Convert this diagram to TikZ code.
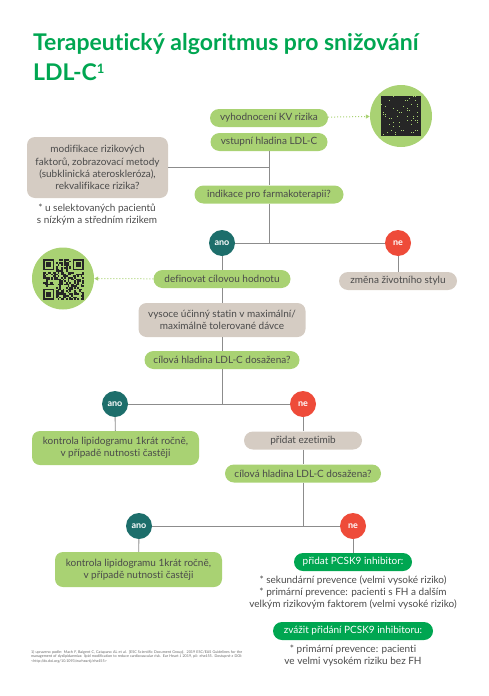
\documentclass[tikz,border=0pt]{standalone}
\usepackage{fontspec}
\setmainfont{Lato}[Ligatures={NoCommon}]
\usetikzlibrary{arrows.meta,positioning}
\usepackage{xcolor}
\definecolor{leaf}{HTML}{A9D273}
\definecolor{stone}{HTML}{D5CCC3}
\definecolor{ano}{HTML}{1D6E6B}
\definecolor{ne}{HTML}{EE4B39}
\definecolor{brand}{HTML}{00A651}
\definecolor{ink}{HTML}{4A4A4A}
\definecolor{wire}{HTML}{8C8C8C}

\begin{document}
\begin{tikzpicture}[x=1pt,y=-1pt,
  title/.style={text=brand,font=\bfseries\fontsize{23}{27}\selectfont,inner sep=0pt},
  pill/.style={fill=leaf,rounded corners=9pt,minimum height=18pt,inner sep=1pt,text=ink,font=\fontsize{10}{12}\selectfont},
  box/.style={fill=stone,rounded corners=8pt,inner sep=2pt,text=ink,align=center,font=\fontsize{10}{12}\selectfont},
  note/.style={text=ink,align=center,inner sep=0pt,font=\fontsize{10}{12}\selectfont},
  yes/.style={circle,fill=ano,minimum size=26pt,inner sep=0pt,text=white,font=\bfseries\fontsize{9}{10}\selectfont},
  no/.style={yes,fill=ne},
  wire/.style={draw=wire,line width=0.9pt},
  hint/.style={draw=leaf,dotted,line width=1pt,-{Triangle[length=4pt,width=4pt]}},
  qrring/.style={circle,fill=leaf,minimum size=62pt,inner sep=0pt},
  foot/.style={text=ink!85,align=justify,inner sep=0pt,font=\fontsize{3.7}{4.5}\selectfont},
]
\useasboundingbox (0,0) rectangle (488,696);

% title
\node[title,anchor=base west] (title) at (33,50) {Terapeutický algoritmus pro snižování};
\node[title,anchor=base west] (titleb) at (33,80) {LDL-C\raisebox{7pt}{\fontsize{13}{13}\selectfont 1}};

% top part
\node[pill,minimum width=118pt] (risk) at (269,118) {vyhodnocení KV rizika};
\node[pill,minimum width=117pt] (entry) at (269,142) {vstupní hladina LDL-C};
\node[box,minimum width=141pt,minimum height=61pt,font=\fontsize{10}{12.2}\selectfont] (modify) at (97.5,167.5)
  {modifikace rizikových\\faktorů, zobrazovací metody\\(subklinická ateroskleróza),\\rekvalifikace rizika?};
\node[note] (modnote) at (97,215) {* u selektovaných pacientů\\s nízkým a středním rizikem};
\node[pill,minimum width=149pt] (indic) at (269,194.5) {indikace pro farmakoterapii?};

% QR codes
\node[qrring] (qra) at (401,116) {};
\node[qrring] (qrb) at (63,278.5) {};
\fill[black!85] (381,96) rectangle (421,136);
\pgfmathsetseed{11}
\foreach \i in {0,...,19}{\foreach \j in {0,...,19}{
  \pgfmathtruncatemacro{\bit}{rnd<0.12}
  \ifnum\bit=1 \fill[leaf] ({381+2*\i},{96+2*\j}) rectangle +(1.2,1.2);\fi}}
\foreach \i in {0,...,24}{\foreach \j in {0,...,24}{
  \pgfmathtruncatemacro{\bit}{rnd<0.5}
  \ifnum\bit=1 \fill[black!85] ({43+1.64*\i},{259+1.64*\j}) rectangle +(1.64,1.64);\fi}}
\foreach \fx/\fy/\sx/\sy in {43/259/43/259,72.52/259/70.88/259,43/288.52/43/286.88}{
  \fill[leaf] (\sx,\sy) rectangle +(13.12,13.12);
  \fill[black!85] (\fx,\fy) rectangle +(11.48,11.48);
  \fill[leaf] ({\fx+1.64},{\fy+1.64}) rectangle +(8.2,8.2);
  \fill[black!85] ({\fx+3.28},{\fy+3.28}) rectangle +(4.92,4.92);
}

% first decision
\node[yes] (yesa) at (222,243) {ano};
\node[no] (noa) at (398,243) {ne};
\node[pill,minimum width=137pt] (target) at (222,279) {definovat cílovou hodnotu};
\node[pill,fill=stone,minimum width=118pt] (life) at (398,281) {změna životního stylu};
\node[box,minimum width=167pt,minimum height=34pt] (statin) at (222,320) {vysoce účinný statin v maximální/\\maximálně tolerované dávce};
\node[pill,minimum width=155pt] (goala) at (222,360) {cílová hladina LDL-C dosažena?};

% second decision
\node[yes] (yesb) at (115,404) {ano};
\node[no] (nob) at (303,404) {ne};
\node[box,fill=leaf,minimum width=167pt,minimum height=34pt] (checka) at (115.5,448) {kontrola lipidogramu 1krát ročně,\\v případě nutnosti častěji};
\node[pill,fill=stone,minimum width=118pt] (ezet) at (303,440.5) {přidat ezetimib};
\node[pill,minimum width=156pt] (goalb) at (303,473.5) {cílová hladina LDL-C dosažena?};

% third decision
\node[yes] (yesc) at (139,526) {ano};
\node[no] (noc) at (353,526) {ne};
\node[box,fill=leaf,minimum width=167pt,minimum height=35pt] (checkb) at (138.5,569.5) {kontrola lipidogramu 1krát ročně,\\v případě nutnosti častěji};
\node[pill,fill=brand,text=white,minimum width=118pt] (pcsk) at (353,562) {přidat PCSK9 inhibitor:};
\node[note] (pcsknote) at (353,592) {* sekundární prevence (velmi vysoké riziko)\\* primární prevence: pacienti s FH a dalším\\velkým rizikovým faktorem (velmi vysoké riziko)};
\node[pill,fill=brand,text=white,minimum width=160pt] (consider) at (353,631) {zvážit přidání PCSK9 inhibitoru:};
\node[note] (considnote) at (353,656) {* primární prevence: pacienti\\ve velmi vysokém riziku bez FH};

% footnote
\node[foot,anchor=north west,text width=211pt] (ref) at (31,650) {1) upraveno podle: Mach F, Baigent C, Catapano AL et al. [ESC Scientific Document Group]. 2019 ESC/EAS Guidelines for the management of dyslipidaemias: lipid modification to reduce cardiovascular risk. Eur Heart J 2019, pii: ehz455. Dostupné z DOI: <http://dx.doi.org/10.1093/eurheartj/ehz455>};

% connectors
\draw[wire] (entry) -- (indic);
\draw[wire] (modify) -- (modify -| entry);
\draw[wire] (indic) -- (indic |- yesa);
\draw[wire] (yesa) -- (noa);
\draw[wire] (yesa) -- (target);
\draw[wire] (target) -- (statin);
\draw[wire] (statin) -- (goala);
\draw[wire] (noa) -- (life);
\draw[wire] (goala) -- (goala |- yesb);
\draw[wire] (yesb) -- (nob);
\draw[wire] (yesb) -- (checka);
\draw[wire] (nob) -- (ezet);
\draw[wire] (ezet) -- (goalb);
\draw[wire] (goalb) -- (goalb |- yesc);
\draw[wire] (yesc) -- (noc);
\draw[wire] (yesc) -- (checkb);
\draw[wire] (noc) -- (pcsk);

\draw[hint] (risk) -- (qra);
\draw[hint] (target) -- (qrb);
\end{tikzpicture}
\end{document}
